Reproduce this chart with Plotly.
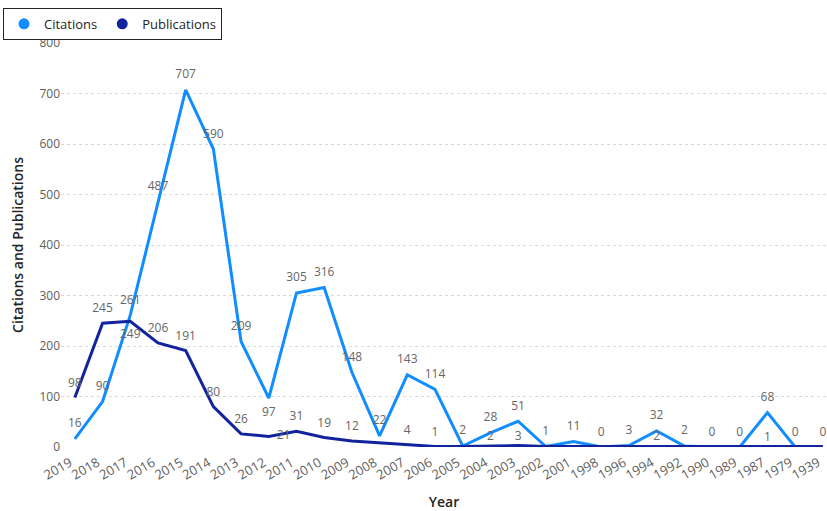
import plotly.graph_objects as go

# Year categories, newest first
years = ["2019", "2018", "2017", "2016", "2015", "2014", "2013", "2012", "2011", "2010",
         "2009", "2008", "2007", "2006", "2005", "2004", "2003", "2002", "2001", "1998",
         "1996", "1994", "1992", "1990", "1989", "1987", "1979", "1939"]

citations = [16, 90, 261, 487, 707, 590, 209, 97, 305, 316,
             148, 22, 143, 114, 2, 28, 51, 1, 11, 0,
             3, 32, 2, 0, 0, 68, 0, 0]

publications = [98, 245, 249, 206, 191, 80, 26, 21, 31, 19,
                12, 8, 4, 1, 1, 2, 3, 1, 1, 1,
                1, 2, 1, 1, 1, 1, 1, 1]

# which publication labels are displayed (others hidden to avoid overlap)
pub_label_shown = [1, 1, 1, 1, 1, 1, 1, 1, 1, 1,
                   1, 0, 1, 1, 0, 1, 1, 0, 0, 0,
                   0, 1, 0, 0, 0, 1, 0, 0]

cit_pos = ["top center"] * len(years)
cit_pos[7] = "bottom center"
pub_pos = ["top center"] * len(years)
pub_pos[2] = "bottom center"
pub_pos[7] = "middle right"

C_CIT = "#118DFF"
C_PUB = "#12239E"
FONT = "Segoe UI, Open Sans, Noto Sans, sans-serif"
LABEL_COLOR = "#666666"
TITLE_COLOR = "#252423"

x_idx = list(range(len(years)))

# invisible markers give the data labels some clearance from the lines;
# tighter clearance where a publication label sits under a citation label
no_outline = dict(width=0, color="rgba(0,0,0,0)")
cit_marker = dict(size=12, color="rgba(0,0,0,0)", line=no_outline)
pub_sizes = [11] * len(years)
for i in (15, 16, 21, 25):
    pub_sizes[i] = 3
pub_marker = dict(size=pub_sizes, color="rgba(0,0,0,0)", line=no_outline)

fig = go.Figure()
fig.add_trace(go.Scatter(
    x=x_idx, y=citations, mode="lines+markers+text", name="Citations",
    line=dict(color=C_CIT, width=3), marker=cit_marker,
    text=[str(v) for v in citations], textposition=cit_pos,
    textfont=dict(family=FONT, size=12, color=LABEL_COLOR),
    showlegend=False, cliponaxis=True,
))
fig.add_trace(go.Scatter(
    x=x_idx, y=publications, mode="lines+markers+text", name="Publications",
    line=dict(color=C_PUB, width=3), marker=pub_marker,
    text=[str(v) if s else "" for v, s in zip(publications, pub_label_shown)],
    textposition=pub_pos,
    textfont=dict(family=FONT, size=12, color=LABEL_COLOR),
    showlegend=False, cliponaxis=True,
))
# legend entries with circle symbols
for nm, col in (("Citations", C_CIT), ("Publications", C_PUB)):
    fig.add_trace(go.Scatter(x=[None], y=[None], mode="markers", name=nm,
                             marker=dict(color=col, size=11, symbol="circle")))

fig.update_layout(
    width=827, height=511,
    margin=dict(l=61, r=0, t=43, b=64),
    paper_bgcolor="white", plot_bgcolor="white",
    font=dict(family=FONT, size=12, color="#605E5C"),
    legend=dict(
        orientation="h", x=-0.0757, y=1.087, xanchor="left", yanchor="top",
        bordercolor=TITLE_COLOR, borderwidth=1, itemwidth=30,
        font=dict(family=FONT, size=13, color=TITLE_COLOR),
        tracegroupgap=0, itemclick=False,
    ),
)
fig.update_xaxes(
    tickmode="array", tickvals=x_idx, ticktext=years, tickangle=-30,
    range=[-0.5, 27.15], showgrid=False, zeroline=False, showline=False,
    ticklabeloverflow="allow", ticklabelstandoff=5, ticklabelshift=-5,
    tickfont=dict(family=FONT, size=13, color="#605E5C"),
    title=dict(text="Year", font=dict(family=FONT, size=14, color=TITLE_COLOR, weight=600),
               standoff=16),
    automargin=False,
)
fig.update_yaxes(
    range=[0, 800], dtick=100, showgrid=True, gridcolor="#D9D9D9", griddash="dot",
    gridwidth=1, zeroline=False, showline=False,
    tickfont=dict(family=FONT, size=12, color="#605E5C"),
    title=dict(text="Citations and Publications",
               font=dict(family=FONT, size=14, color=TITLE_COLOR, weight=600),
               standoff=12),
    automargin=False,
)

fig.write_html("out.html")
